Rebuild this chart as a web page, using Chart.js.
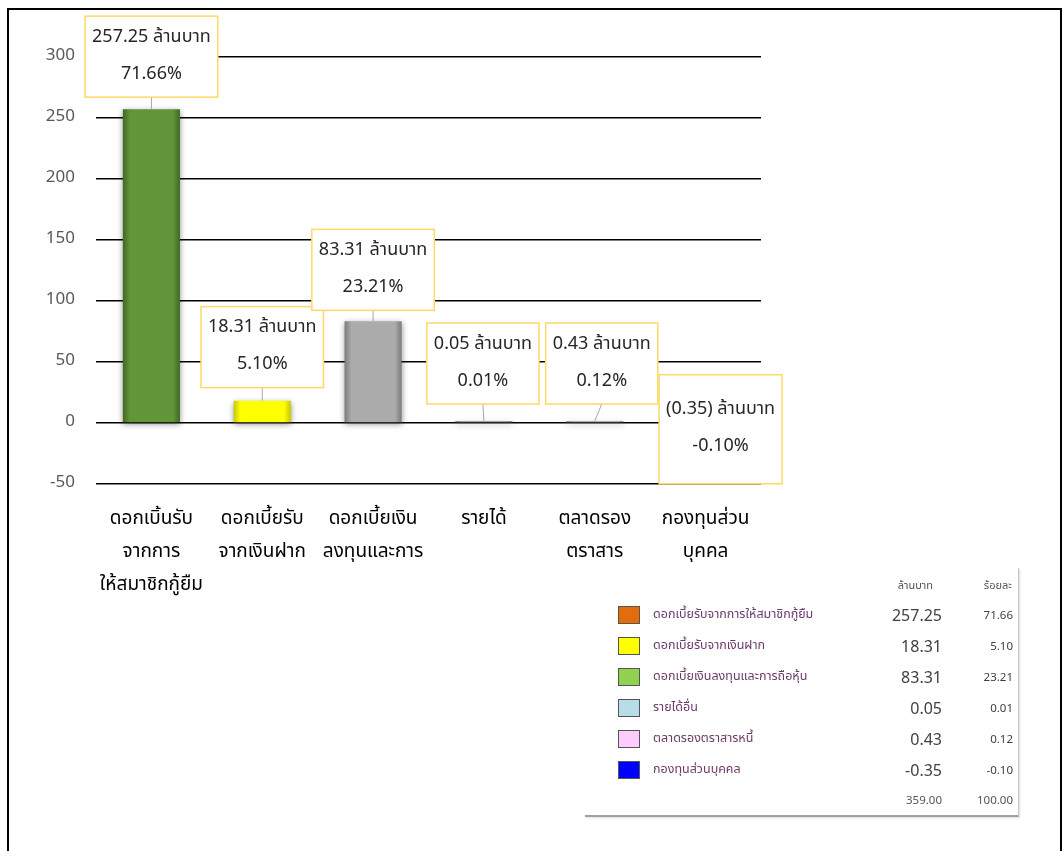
<!DOCTYPE html>
<html>
<head>
<meta charset="utf-8">
<script src="https://cdn.jsdelivr.net/npm/chart.js@4.4.1/dist/chart.umd.min.js"></script>
<style>
  body { margin: 0; background: #fff; font-family: "Noto Sans Thai", "Noto Sans", "DejaVu Sans", sans-serif; }
  #frame { position: absolute; left: 7px; top: 8px; width: 1055px; height: 860px; border: 2px solid #000; box-sizing: border-box; }
  #chart { position: absolute; left: 0; top: 0; }
  #tbl { position: absolute; left: 585px; top: 568px; width: 433px; height: 247px;
         border-right: 1px solid #c8c8c8; border-bottom: 2px solid #a0a0a0; box-shadow: 1px 1px 2px #ddd; }
  #tbl div { position: absolute; white-space: nowrap; }
</style>
</head>
<body>
<div id="frame"></div>
<canvas id="chart" width="1063" height="851"></canvas>
<div id="tbl"></div>
<script>
// ====== data ======
const categories = [
  ['ดอกเบิ้นรับ', 'จากการ', 'ให้สมาชิกกู้ยืม'],
  ['ดอกเบี้ยรับ', 'จากเงินฝาก'],
  ['ดอกเบี้ยเงิน', 'ลงทุนและการ'],
  ['รายได้'],
  ['ตลาดรอง', 'ตราสาร'],
  ['กองทุนส่วน', 'บุคคล']
];
const values = [257.25, 18.31, 83.31, 0.05, 0.43, -0.35];
const percents = [71.66, 5.10, 23.21, 0.01, 0.12, -0.10];
const yTicks = [-50, 0, 50, 100, 150, 200, 250, 300];

// table (pasted legend) data
const tableNames = [
  'ดอกเบี้ยรับจากการให้สมาชิกกู้ยืม',
  'ดอกเบี้ยรับจากเงินฝาก',
  'ดอกเบี้ยเงินลงทุนและการถือหุ้น',
  'รายได้อื่น',
  'ตลาดรองตราสารหนี้',
  'กองทุนส่วนบุคคล'
];
const tableHeaders = ['ล้านบาท', 'ร้อยละ'];
const tableTotals = ['359.00', '100.00'];

// ====== styles ======
const FONT = '"Noto Sans Thai", "Noto Sans", "DejaVu Sans", sans-serif';
const BAR_PCT = 0.515;
const barShades = [
  ['#3f6824', '#629439'],
  ['#c8c800', '#ffff00'],
  ['#7c7c7c', '#ababab'],
  ['#8a8a8a', '#a0a0a0'],
  ['#9a8a98', '#b8a8b6'],
  ['#8a8a8a', '#a0a0a0']
];
const tableColors = ['#e46c0a', '#ffff00', '#92d050', '#b7dee8', '#ffccff', '#0000ff'];
// label box placement: dx from bar centre, dy = box bottom relative to bar top, h = box height
const labelPlace = [
  { dx: 0, dy: -12, h: 81 },
  { dx: 0, dy: -13, h: 81 },
  { dx: 0, dy: -11, h: 81 },
  { dx: -1, dy: -17, h: 81 },
  { dx: 7, dy: -17, h: 81 },
  { dx: 15, dy: 60, h: 109 }
];

function fmtValue(v) {
  return v < 0 ? '(' + Math.abs(v).toFixed(2) + ')' : v.toFixed(2);
}

function barFill(c) {
  const chart = c.chart;
  const xs = chart.scales.x;
  const s = barShades[c.dataIndex];
  if (!xs) return s[1];
  const cx = xs.getPixelForValue(c.dataIndex);
  const half = xs.width / categories.length * BAR_PCT / 2;
  if (!Number.isFinite(cx) || !Number.isFinite(half) || half <= 0) return s[1];
  const g = chart.ctx.createLinearGradient(cx - half, 0, cx + half, 0);
  g.addColorStop(0, s[0]);
  g.addColorStop(0.12, s[1]);
  g.addColorStop(0.88, s[1]);
  g.addColorStop(1, s[0]);
  return g;
}

const shadowPlugin = {
  id: 'barShadow',
  beforeDatasetsDraw(chart) {
    const ctx = chart.ctx;
    ctx.save();
    ctx.shadowColor = 'rgba(0,0,0,0.45)';
    ctx.shadowBlur = 6;
    ctx.shadowOffsetY = 2;
  },
  afterDatasetsDraw(chart) {
    chart.ctx.restore();
  }
};

const boxLabels = {
  id: 'boxLabels',
  afterDraw(chart) {
    const ctx = chart.ctx;
    const meta = chart.getDatasetMeta(0);
    ctx.save();
    ctx.font = '18px ' + FONT;
    meta.data.forEach((bar, i) => {
      const p = labelPlace[i];
      const top = Math.min(bar.y, bar.base);
      const lines = [fmtValue(values[i]) + ' ล้านบาท', percents[i].toFixed(2) + '%'];
      const w = Math.max(...lines.map(t => ctx.measureText(t).width)) + 14;
      const cx = bar.x + p.dx;
      const bottom = top + p.dy;
      const boxTop = bottom - p.h;
      if (bottom < top) {
        ctx.strokeStyle = '#a6a6a6';
        ctx.lineWidth = 1;
        ctx.beginPath();
        ctx.moveTo(cx, bottom);
        ctx.lineTo(bar.x, top);
        ctx.stroke();
      }
      ctx.fillStyle = '#fff';
      ctx.fillRect(cx - w / 2, boxTop, w, p.h);
      ctx.strokeStyle = '#ffd966';
      ctx.lineWidth = 1.5;
      ctx.strokeRect(cx - w / 2, boxTop, w, p.h);
      ctx.fillStyle = '#262626';
      ctx.textAlign = 'center';
      ctx.textBaseline = 'middle';
      const mid = boxTop + p.h / 2;
      ctx.fillText(lines[0], cx, mid - 18.5);
      ctx.fillText(lines[1], cx, mid + 18.5);
    });
    ctx.restore();
  }
};

new Chart(document.getElementById('chart'), {
  type: 'bar',
  data: {
    labels: categories,
    datasets: [{
      data: values,
      backgroundColor: barFill,
      borderWidth: 0,
      minBarLength: 2,
      barPercentage: BAR_PCT,
      categoryPercentage: 1
    }]
  },
  options: {
    responsive: false,
    animation: false,
    devicePixelRatio: 1,
    layout: { padding: { left: 0, top: 57, right: 302, bottom: 0 } },
    plugins: { legend: { display: false }, tooltip: { enabled: false } },
    scales: {
      x: {
        grid: { display: false },
        border: { display: false },
        ticks: {
          color: '#000',
          padding: 12,
          maxRotation: 0,
          autoSkip: false,
          font: { family: FONT, size: 19, lineHeight: 1.74 }
        },
        afterFit(s) { s.height = 851 - 484; }
      },
      y: {
        min: -50,
        max: 300,
        afterBuildTicks(s) { s.ticks = yTicks.map(v => ({ value: v })); },
        grid: { color: '#000', lineWidth: 1.5, drawTicks: false },
        border: { display: false },
        ticks: {
          color: '#595959',
          padding: 21,
          font: { family: FONT, size: 17 }
        },
        afterFit(s) { s.width = 96; }
      }
    }
  },
  plugins: [shadowPlugin, boxLabels]
});

// ====== pasted summary table ======
const tbl = document.getElementById('tbl');
function addText(txt, left, top, css) {
  const d = document.createElement('div');
  d.textContent = txt;
  d.style.cssText = css;
  if (left !== null) d.style.left = left + 'px';
  d.style.top = top + 'px';
  tbl.appendChild(d);
  return d;
}
// header
addText(tableHeaders[0], null, 9, 'right:85px;font-size:11px;color:#555;');
addText(tableHeaders[1], null, 9, 'right:6px;font-size:11px;color:#555;');
tableNames.forEach((name, i) => {
  const cy = 47 + i * 31;
  const sq = document.createElement('div');
  sq.style.cssText = 'left:33px;top:' + (cy - 9) + 'px;width:20px;height:16px;border:1px solid #555;background:' + tableColors[i] + ';';
  tbl.appendChild(sq);
  addText(name, 68, cy - 10, 'font-size:12.5px;color:#6b3a6b;');
  addText(values[i].toFixed(2), null, cy - 11, 'right:76px;font-size:16px;color:#404040;');
  addText(percents[i].toFixed(2), null, cy - 8, 'right:5px;font-size:11.5px;color:#404040;');
});
addText(tableTotals[0], null, 224, 'right:76px;font-size:11.5px;color:#555;');
addText(tableTotals[1], null, 224, 'right:5px;font-size:11.5px;color:#555;');
</script>
</body>
</html>
